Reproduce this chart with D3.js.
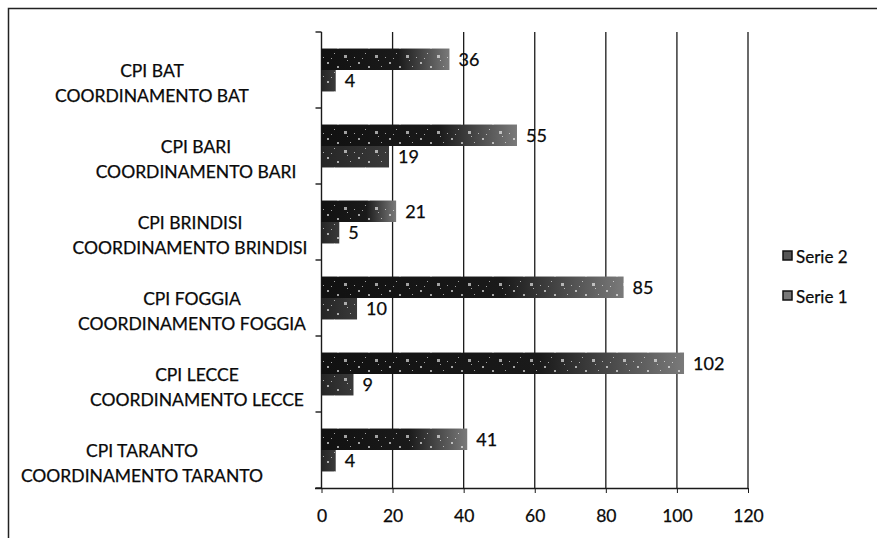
<!DOCTYPE html>
<html>
<head>
<meta charset="utf-8">
<script src="https://cdn.jsdelivr.net/npm/d3@7"></script>
<style>
body { margin: 0; background: #fff; }
text { font-family: Lato, "Open Sans", sans-serif; fill: #0a0a0a; stroke: #0a0a0a; stroke-width: 0.25px; }
</style>
</head>
<body>
<svg id="svg" width="877" height="538"></svg>
<script>
// data
var cpiNames = ["CPI BAT", "CPI BARI", "CPI BRINDISI", "CPI FOGGIA", "CPI LECCE", "CPI TARANTO"];
var coordNames = ["COORDINAMENTO BAT", "COORDINAMENTO BARI", "COORDINAMENTO BRINDISI",
                  "COORDINAMENTO FOGGIA", "COORDINAMENTO LECCE", "COORDINAMENTO TARANTO"];
var serie2 = [36, 55, 21, 85, 102, 41];
var serie1 = [4, 19, 5, 10, 9, 4];
var seriesNames = ["Serie 2", "Serie 1"];
var xTicks = [0, 20, 40, 60, 80, 100, 120];

// where each two-line label sits (the scan is uneven)
var labelCenter = [152, 196, 190, 192, 197, 142];

var svg = d3.select("#svg");

// frame (only top and left edges show in the scan)
svg.append("path")
    .attr("d", "M8.5,538 V8.5 H877")
    .attr("fill", "none")
    .attr("stroke", "#222")
    .attr("stroke-width", 1.5);

var defs = svg.append("defs");

var grad = defs.append("linearGradient").attr("id", "g2");
grad.append("stop").attr("offset", "0%").attr("stop-color", "#111");
grad.append("stop").attr("offset", "60%").attr("stop-color", "#1a1a1a");
grad.append("stop").attr("offset", "100%").attr("stop-color", "#7a7a7a");

var grad1 = defs.append("linearGradient").attr("id", "g1");
grad1.append("stop").attr("offset", "0%").attr("stop-color", "#262626");
grad1.append("stop").attr("offset", "100%").attr("stop-color", "#3a3a3a");

// speckle texture like the scanned print
var speck = defs.append("pattern")
    .attr("id", "speck")
    .attr("patternUnits", "userSpaceOnUse")
    .attr("width", 31).attr("height", 19);
[[3, 4, 3], [17, 11, 2], [24, 2, 1], [9, 15, 1], [13, 6, 1], [27, 15, 2], [6, 9, 1], [21, 7, 1]]
    .forEach(function(s) {
        speck.append("rect")
            .attr("x", s[0]).attr("y", s[1])
            .attr("width", s[2]).attr("height", s[2])
            .attr("fill", "#fff")
            .attr("opacity", 0.6);
    });

var x = d3.scaleLinear().domain([0, 120]).range([321.5, 748]);
var y = d3.scaleBand().domain(d3.range(cpiNames.length)).range([32, 488]);
var y1 = d3.scaleBand().domain(seriesNames).range([0, y.bandwidth()]).paddingOuter(0.77);

// gridlines
svg.append("g")
    .selectAll("line")
    .data(xTicks.slice(1))
    .join("line")
    .attr("x1", function(d) { return x(d); })
    .attr("x2", function(d) { return x(d); })
    .attr("y1", 32)
    .attr("y2", 488)
    .attr("stroke", "#1a1a1a")
    .attr("stroke-width", 1.3);

// x axis
var xAxis = svg.append("g")
    .attr("transform", "translate(0,488)")
    .call(d3.axisBottom(x).tickValues(xTicks).tickSize(5).tickPadding(17).tickSizeOuter(0));
xAxis.select(".domain").attr("d", "M315,0.5H" + x(120)).attr("stroke", "#1a1a1a").attr("stroke-width", 1.4);
xAxis.selectAll(".tick line").attr("stroke", "#1a1a1a");
xAxis.selectAll(".tick text")
    .attr("font-size", 17.5)
    .style("font-family", "Lato, 'Open Sans', sans-serif")
    .attr("fill", "#0a0a0a");

// y axis with ticks at the category edges
var yAxis = svg.append("g").attr("transform", "translate(" + x(0) + ",0)");
yAxis.append("line")
    .attr("y1", 32).attr("y2", 488)
    .attr("stroke", "#1a1a1a").attr("stroke-width", 1.4);
yAxis.selectAll(".edge")
    .data(d3.range(cpiNames.length + 1))
    .join("line")
    .attr("class", "edge")
    .attr("x1", -6).attr("x2", 0)
    .attr("y1", function(i) { return i < cpiNames.length ? y(i) : y(i - 1) + y.bandwidth(); })
    .attr("y2", function(i) { return i < cpiNames.length ? y(i) : y(i - 1) + y.bandwidth(); })
    .attr("stroke", "#1a1a1a").attr("stroke-width", 1.4);

// bars
var rows = d3.range(cpiNames.length).map(function(i) {
    return [{ s: "Serie 2", v: serie2[i], i: i }, { s: "Serie 1", v: serie1[i], i: i }];
});
var cats = svg.append("g")
    .selectAll("g")
    .data(rows)
    .join("g")
    .attr("transform", function(d, i) { return "translate(0," + y(i) + ")"; });

cats.selectAll("rect.bar")
    .data(function(d) { return d; })
    .join("rect")
    .attr("class", "bar")
    .attr("x", x(0))
    .attr("y", function(d) { return y1(d.s); })
    .attr("width", function(d) { return x(d.v) - x(0); })
    .attr("height", y1.bandwidth())
    .attr("fill", function(d) { return d.s == "Serie 2" ? "url(#g2)" : "url(#g1)"; });

cats.selectAll("rect.speck")
    .data(function(d) { return d; })
    .join("rect")
    .attr("class", "speck")
    .attr("x", x(0))
    .attr("y", function(d) { return y1(d.s); })
    .attr("width", function(d) { return x(d.v) - x(0); })
    .attr("height", y1.bandwidth())
    .attr("fill", "url(#speck)");

cats.selectAll("text.val")
    .data(function(d) { return d; })
    .join("text")
    .attr("class", "val")
    .attr("x", function(d) { return x(d.v) + 9; })
    .attr("y", function(d) { return y1(d.s) + y1.bandwidth() / 2 + 6.5; })
    .attr("font-size", 18)
    .text(function(d) { return d.v; });

// category labels
var labels = svg.append("g")
    .selectAll("text")
    .data(cpiNames)
    .join("text")
    .attr("text-anchor", "middle")
    .attr("font-size", 17.5)
    .attr("transform", function(d, i) {
        return "translate(" + labelCenter[i] + "," + (y(i) + y.bandwidth() / 2) + ")";
    });
labels.append("tspan").attr("x", 0).attr("y", 6.5).text(function(d) { return d; });
labels.append("tspan").attr("x", 0).attr("y", 31.5).text(function(d, i) { return coordNames[i]; });

// legend
var legend = svg.append("g")
    .selectAll("g")
    .data(seriesNames)
    .join("g")
    .attr("transform", function(d, i) { return "translate(783," + (256 + i * 40) + ")"; });
legend.append("rect")
    .attr("x", 0).attr("y", -5)
    .attr("width", 9).attr("height", 9)
    .attr("fill", function(d) { return d == "Serie 2" ? "#555" : "#777"; })
    .attr("stroke", "#111").attr("stroke-width", 1.5);
legend.append("text")
    .attr("x", 13).attr("y", 6.5)
    .attr("font-size", 17)
    .text(function(d) { return d; });
</script>
</body>
</html>
